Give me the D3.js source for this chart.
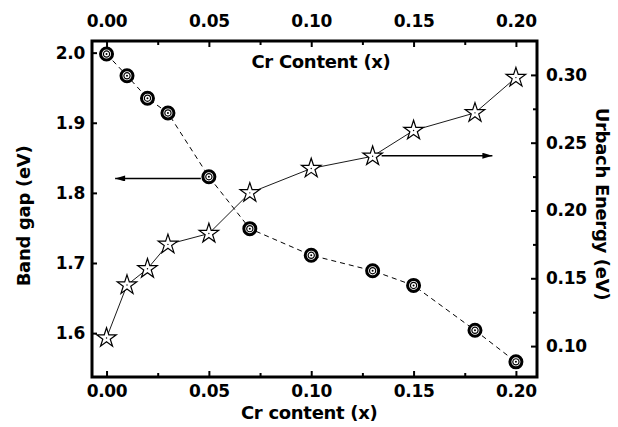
<!DOCTYPE html>
<html>
<head>
<meta charset="utf-8">
<script src="https://cdn.jsdelivr.net/npm/d3@7"></script>
<style>
  body { margin: 0; background: #fff; }
  text { font-family: "DejaVu Sans", sans-serif; font-weight: bold; }
  .axis path { display: none; }
  .axis line { stroke: #000; stroke-width: 2; }
  .axis text { font-size: 17px; letter-spacing: -0.3px; fill: #000; }
</style>
</head>
<body>
<div id="chart"></div>
<script>
// Cr content (x) for both series
var crContent = [0, 0.01, 0.02, 0.03, 0.05, 0.07, 0.10, 0.13, 0.15, 0.18, 0.20];
// band gap (eV), left axis
var bandGap = [1.998, 1.967, 1.935, 1.914, 1.823, 1.749, 1.711, 1.689, 1.668, 1.604, 1.559];
// Urbach energy (eV), right axis
var urbach = [0.106, 0.145, 0.157, 0.175, 0.183, 0.213, 0.231, 0.240, 0.259, 0.272, 0.298];

var xTicks = [0, 0.05, 0.10, 0.15, 0.20];
var xMinor = [0.025, 0.075, 0.125, 0.175];
var leftTicks = [1.6, 1.7, 1.8, 1.9, 2.0];
var rightTicks = [0.10, 0.15, 0.20, 0.25, 0.30];
var rightMinor = [0.125, 0.175, 0.225, 0.275];

var width = 618, height = 427;
var margin = {top: 41, bottom: 50, left: 92, right: 81};
var w = width - margin.left - margin.right,
    h = height - margin.top - margin.bottom;

var svg = d3.select("#chart").append("svg")
    .attr("width", width)
    .attr("height", height);

var g = svg.append("g")
    .attr("transform", "translate(" + margin.left + "," + margin.top + ")");

var x = d3.scaleLinear().domain([-0.0071, 0.2103]).range([0, w]);
var yL = d3.scaleLinear().domain([1.5374, 2.0166]).range([h, 0]);
var yR = d3.scaleLinear().domain([0.0772, 0.325]).range([h, 0]);

// axes (ticks point inward)
g.append("g").attr("class", "axis")
    .attr("transform", "translate(0," + h + ")")
    .call(d3.axisBottom(x).tickValues(xTicks).tickSize(-6).tickPadding(8).tickFormat(d3.format(".2f")));
g.append("g").attr("class", "axis")
    .attr("transform", "translate(0," + h + ")")
    .call(d3.axisBottom(x).tickValues(xMinor).tickSize(-4).tickFormat(""));
g.append("g").attr("class", "axis")
    .call(d3.axisTop(x).tickValues(xTicks).tickSize(-6).tickPadding(14).tickFormat(d3.format(".2f")));
g.append("g").attr("class", "axis")
    .call(d3.axisTop(x).tickValues(xMinor).tickSize(-4).tickFormat(""));
g.append("g").attr("class", "axis")
    .call(d3.axisLeft(yL).tickValues(leftTicks).tickSize(-5).tickPadding(7).tickFormat(d3.format(".1f")));
g.append("g").attr("class", "axis")
    .attr("transform", "translate(" + w + ",0)")
    .call(d3.axisRight(yR).tickValues(rightTicks).tickSize(-6).tickPadding(9).tickFormat(d3.format(".2f")));
g.append("g").attr("class", "axis")
    .attr("transform", "translate(" + w + ",0)")
    .call(d3.axisRight(yR).tickValues(rightMinor).tickSize(-4).tickFormat(""));

// frame
g.append("rect")
    .attr("width", w).attr("height", h)
    .attr("fill", "none").attr("stroke", "#000").attr("stroke-width", 3);

// connecting lines
var bgLine = d3.line().x(function(d, i) { return x(crContent[i]); }).y(function(d) { return yL(d); });
var ueLine = d3.line().x(function(d, i) { return x(crContent[i]); }).y(function(d) { return yR(d); });

g.append("path").datum(bandGap)
    .attr("d", bgLine).attr("fill", "none")
    .attr("stroke", "#000").attr("stroke-width", 1).attr("stroke-dasharray", "5,4");
g.append("path").datum(urbach)
    .attr("d", ueLine).attr("fill", "none")
    .attr("stroke", "#000").attr("stroke-width", 0.9);

// arrows
svg.append("defs").append("marker")
    .attr("id", "head")
    .attr("viewBox", "0 0 10 6")
    .attr("refX", 10).attr("refY", 3)
    .attr("markerWidth", 11).attr("markerHeight", 6)
    .attr("markerUnits", "userSpaceOnUse")
    .attr("orient", "auto")
    .append("path").attr("d", "M0,0 L10,3 L0,6 Z").attr("fill", "#000");

g.append("line")
    .attr("x1", x(0.05) - 8).attr("y1", yL(1.8205))
    .attr("x2", x(0.0042)).attr("y2", yL(1.8205))
    .attr("stroke", "#000").attr("stroke-width", 1.6)
    .attr("marker-end", "url(#head)");
g.append("line")
    .attr("x1", x(0.13) + 9).attr("y1", yR(0.2404))
    .attr("x2", x(0.1885)).attr("y2", yR(0.2404))
    .attr("stroke", "#000").attr("stroke-width", 1.6)
    .attr("marker-end", "url(#head)");

// star markers
var star = d3.symbol().type(d3.symbolStar).size(118);
var stars = g.selectAll(".star").data(urbach).enter().append("g")
    .attr("class", "star")
    .attr("transform", function(d, i) { return "translate(" + x(crContent[i]) + "," + yR(d) + ")"; });
stars.append("path").attr("d", star)
    .attr("fill", "#fff").attr("stroke", "#000").attr("stroke-width", 1.2);
stars.append("circle").attr("r", 0.7).attr("fill", "#000");

// circle markers
var circ = g.selectAll(".circ").data(bandGap).enter().append("g")
    .attr("class", "circ")
    .attr("transform", function(d, i) { return "translate(" + x(crContent[i]) + "," + yL(d) + ")"; });
circ.append("circle").attr("r", 6)
    .attr("fill", "#fff").attr("stroke", "#000").attr("stroke-width", 3);
circ.append("circle").attr("r", 3.1)
    .attr("fill", "none").attr("stroke", "#000").attr("stroke-width", 1.2);
circ.append("circle").attr("r", 1).attr("fill", "#000");

// titles
svg.append("text")
    .attr("x", (x(0) + x(0.2)) / 2 + margin.left - 2).attr("y", 419)
    .attr("text-anchor", "middle").attr("font-size", 18).attr("letter-spacing", -0.3)
    .text("Cr content (x)");
svg.append("text")
    .attr("x", 321).attr("y", 68)
    .attr("text-anchor", "middle").attr("font-size", 18).attr("letter-spacing", -0.3)
    .text("Cr Content (x)");
svg.append("text")
    .attr("transform", "translate(30,216) rotate(-90)")
    .attr("text-anchor", "middle").attr("font-size", 18).attr("letter-spacing", -0.3)
    .text("Band gap (eV)");
svg.append("text")
    .attr("transform", "translate(596,204) rotate(90)")
    .attr("text-anchor", "middle").attr("font-size", 18).attr("letter-spacing", -0.3)
    .text("Urbach Energy (eV)");
</script>
</body>
</html>
